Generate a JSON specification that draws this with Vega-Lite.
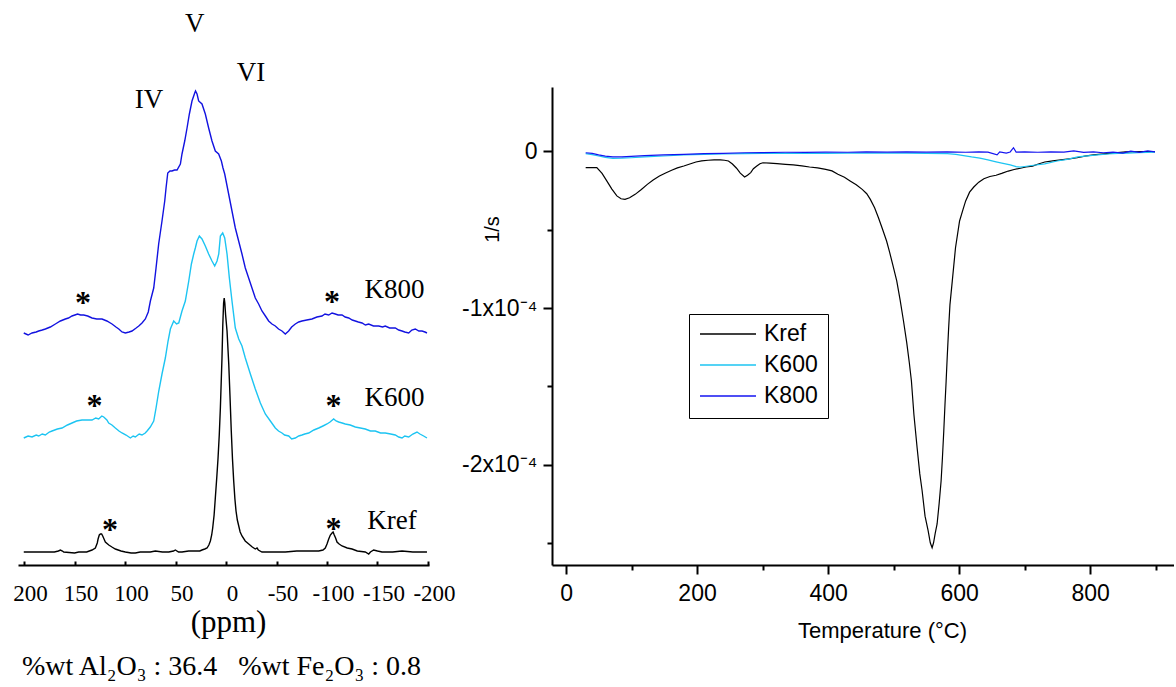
{
"$schema": "https://vega.github.io/schema/vega-lite/v6.json",
"background": "white",
"padding": {"left": 12, "top": 9, "right": 0, "bottom": 0},
"bounds": "flush",
"spacing": 123,
"resolve": {"scale": {"color": "independent"}, "legend": {"color": "independent"}},
"config": {"view": {"stroke": null}, "axis": {"grid": false}},
"datasets": {
"nmr": [
{"s":"K800","ppm":200.3,"y":232},{"s":"K800","ppm":196,"y":230},{"s":"K800","ppm":192.1,"y":232},{"s":"K800","ppm":188,"y":233},{"s":"K800","ppm":185.5,"y":234},{"s":"K800","ppm":182,"y":235},{"s":"K800","ppm":178.9,"y":236},{"s":"K800","ppm":174,"y":238},{"s":"K800","ppm":169,"y":241},{"s":"K800","ppm":164,"y":244},{"s":"K800","ppm":159.1,"y":246},{"s":"K800","ppm":156,"y":247},{"s":"K800","ppm":152.5,"y":249},{"s":"K800","ppm":147,"y":251},{"s":"K800","ppm":144,"y":250},{"s":"K800","ppm":140.9,"y":250},{"s":"K800","ppm":137,"y":249},{"s":"K800","ppm":132.7,"y":247},{"s":"K800","ppm":128,"y":246},{"s":"K800","ppm":122.8,"y":246},{"s":"K800","ppm":118,"y":244},{"s":"K800","ppm":112.9,"y":241},{"s":"K800","ppm":109,"y":238},{"s":"K800","ppm":106.2,"y":236},{"s":"K800","ppm":103,"y":233},{"s":"K800","ppm":99.7,"y":232},{"s":"K800","ppm":96,"y":233},{"s":"K800","ppm":93.1,"y":234},{"s":"K800","ppm":89,"y":237},{"s":"K800","ppm":86.4,"y":239},{"s":"K800","ppm":83.2,"y":242},{"s":"K800","ppm":79.9,"y":246},{"s":"K800","ppm":77,"y":253},{"s":"K800","ppm":74.9,"y":264},{"s":"K800","ppm":71.6,"y":277},{"s":"K800","ppm":69.3,"y":297},{"s":"K800","ppm":66.7,"y":321},{"s":"K800","ppm":63.4,"y":344},{"s":"K800","ppm":60.7,"y":364},{"s":"K800","ppm":59.4,"y":377},{"s":"K800","ppm":57.7,"y":392},{"s":"K800","ppm":55.5,"y":394},{"s":"K800","ppm":53.5,"y":394},{"s":"K800","ppm":51,"y":395},{"s":"K800","ppm":48.5,"y":395},{"s":"K800","ppm":45.2,"y":401},{"s":"K800","ppm":43.6,"y":411},{"s":"K800","ppm":40.9,"y":424},{"s":"K800","ppm":38.6,"y":437},{"s":"K800","ppm":36.3,"y":451},{"s":"K800","ppm":33.7,"y":464},{"s":"K800","ppm":31.0,"y":472},{"s":"K800","ppm":30.2,"y":474},{"s":"K800","ppm":28.7,"y":471},{"s":"K800","ppm":27.1,"y":464},{"s":"K800","ppm":23.8,"y":461},{"s":"K800","ppm":20.5,"y":451},{"s":"K800","ppm":17.2,"y":437},{"s":"K800","ppm":13.9,"y":424},{"s":"K800","ppm":10.6,"y":414},{"s":"K800","ppm":7.3,"y":411},{"s":"K800","ppm":4.6,"y":404},{"s":"K800","ppm":3.0,"y":397},{"s":"K800","ppm":1.3,"y":391},{"s":"K800","ppm":-2.6,"y":371},{"s":"K800","ppm":-5.9,"y":354},{"s":"K800","ppm":-9.2,"y":337},{"s":"K800","ppm":-12.5,"y":324},{"s":"K800","ppm":-15.8,"y":311},{"s":"K800","ppm":-19.1,"y":297},{"s":"K800","ppm":-22.4,"y":287},{"s":"K800","ppm":-25.7,"y":277},{"s":"K800","ppm":-29.0,"y":267},{"s":"K800","ppm":-32.3,"y":261},{"s":"K800","ppm":-35.6,"y":254},{"s":"K800","ppm":-39,"y":249},{"s":"K800","ppm":-42.2,"y":244},{"s":"K800","ppm":-45.5,"y":241},{"s":"K800","ppm":-48.8,"y":239},{"s":"K800","ppm":-52,"y":236},{"s":"K800","ppm":-55.4,"y":234},{"s":"K800","ppm":-58.7,"y":231},{"s":"K800","ppm":-62.0,"y":234},{"s":"K800","ppm":-65,"y":238},{"s":"K800","ppm":-68.6,"y":241},{"s":"K800","ppm":-72,"y":243},{"s":"K800","ppm":-75.2,"y":244},{"s":"K800","ppm":-80,"y":245},{"s":"K800","ppm":-85.1,"y":246},{"s":"K800","ppm":-90,"y":248},{"s":"K800","ppm":-95.0,"y":249},{"s":"K800","ppm":-98,"y":251},{"s":"K800","ppm":-101.7,"y":250},{"s":"K800","ppm":-105,"y":252},{"s":"K800","ppm":-108.2,"y":251},{"s":"K800","ppm":-111,"y":250},{"s":"K800","ppm":-114.9,"y":250},{"s":"K800","ppm":-118,"y":248},{"s":"K800","ppm":-121.5,"y":247},{"s":"K800","ppm":-125,"y":245},{"s":"K800","ppm":-128.0,"y":244},{"s":"K800","ppm":-131,"y":243},{"s":"K800","ppm":-134.7,"y":242},{"s":"K800","ppm":-138,"y":240},{"s":"K800","ppm":-141.3,"y":241},{"s":"K800","ppm":-146,"y":239},{"s":"K800","ppm":-151.2,"y":239},{"s":"K800","ppm":-155,"y":238},{"s":"K800","ppm":-157.7,"y":239},{"s":"K800","ppm":-162,"y":237},{"s":"K800","ppm":-167.6,"y":237},{"s":"K800","ppm":-171,"y":235},{"s":"K800","ppm":-174.3,"y":234},{"s":"K800","ppm":-177,"y":233},{"s":"K800","ppm":-180.9,"y":232},{"s":"K800","ppm":-184,"y":235},{"s":"K800","ppm":-187.4,"y":236},{"s":"K800","ppm":-191,"y":234},{"s":"K800","ppm":-194.1,"y":234},{"s":"K800","ppm":-197,"y":233},{"s":"K800","ppm":-199,"y":232},
{"s":"K600","ppm":200.3,"y":127},{"s":"K600","ppm":196,"y":129},{"s":"K600","ppm":192.1,"y":128},{"s":"K600","ppm":188,"y":130},{"s":"K600","ppm":185.5,"y":129},{"s":"K600","ppm":182,"y":131},{"s":"K600","ppm":178.9,"y":130},{"s":"K600","ppm":175,"y":133},{"s":"K600","ppm":172.3,"y":134},{"s":"K600","ppm":167,"y":136},{"s":"K600","ppm":162.4,"y":137},{"s":"K600","ppm":157,"y":140},{"s":"K600","ppm":152.5,"y":142},{"s":"K600","ppm":148,"y":144},{"s":"K600","ppm":142.6,"y":145},{"s":"K600","ppm":138,"y":145},{"s":"K600","ppm":132.7,"y":145},{"s":"K600","ppm":129,"y":147},{"s":"K600","ppm":126.1,"y":146},{"s":"K600","ppm":123,"y":149},{"s":"K600","ppm":121.1,"y":148},{"s":"K600","ppm":118,"y":145},{"s":"K600","ppm":116.2,"y":142},{"s":"K600","ppm":113,"y":140},{"s":"K600","ppm":109.6,"y":137},{"s":"K600","ppm":106,"y":134},{"s":"K600","ppm":103.0,"y":132},{"s":"K600","ppm":99,"y":130},{"s":"K600","ppm":94.7,"y":127},{"s":"K600","ppm":92,"y":129},{"s":"K600","ppm":89.8,"y":128},{"s":"K600","ppm":86,"y":131},{"s":"K600","ppm":83.2,"y":130},{"s":"K600","ppm":80,"y":132},{"s":"K600","ppm":78.2,"y":134},{"s":"K600","ppm":75,"y":138},{"s":"K600","ppm":71.6,"y":144},{"s":"K600","ppm":69.3,"y":157},{"s":"K600","ppm":66.6,"y":174},{"s":"K600","ppm":63.4,"y":191},{"s":"K600","ppm":60.1,"y":207},{"s":"K600","ppm":57.4,"y":224},{"s":"K600","ppm":55.1,"y":236},{"s":"K600","ppm":51.8,"y":244},{"s":"K600","ppm":49,"y":241},{"s":"K600","ppm":46.8,"y":242},{"s":"K600","ppm":43.6,"y":254},{"s":"K600","ppm":40.3,"y":264},{"s":"K600","ppm":36.9,"y":284},{"s":"K600","ppm":34.3,"y":301},{"s":"K600","ppm":32.0,"y":311},{"s":"K600","ppm":30.4,"y":317},{"s":"K600","ppm":28.7,"y":324},{"s":"K600","ppm":26.4,"y":329},{"s":"K600","ppm":23.8,"y":326},{"s":"K600","ppm":20.5,"y":319},{"s":"K600","ppm":17.2,"y":311},{"s":"K600","ppm":13.9,"y":304},{"s":"K600","ppm":11.2,"y":299},{"s":"K600","ppm":8.9,"y":304},{"s":"K600","ppm":7.2,"y":311},{"s":"K600","ppm":5.6,"y":329},{"s":"K600","ppm":3.3,"y":332},{"s":"K600","ppm":1.3,"y":327},{"s":"K600","ppm":-1.0,"y":311},{"s":"K600","ppm":-3.3,"y":287},{"s":"K600","ppm":-5.9,"y":264},{"s":"K600","ppm":-9.2,"y":237},{"s":"K600","ppm":-12.6,"y":226},{"s":"K600","ppm":-15.8,"y":219},{"s":"K600","ppm":-19.1,"y":207},{"s":"K600","ppm":-24.1,"y":191},{"s":"K600","ppm":-29.0,"y":176},{"s":"K600","ppm":-34.0,"y":162},{"s":"K600","ppm":-38.9,"y":151},{"s":"K600","ppm":-43.9,"y":144},{"s":"K600","ppm":-48.8,"y":137},{"s":"K600","ppm":-52,"y":134},{"s":"K600","ppm":-55.4,"y":132},{"s":"K600","ppm":-58,"y":130},{"s":"K600","ppm":-62.1,"y":129},{"s":"K600","ppm":-65,"y":126},{"s":"K600","ppm":-68.6,"y":127},{"s":"K600","ppm":-72,"y":129},{"s":"K600","ppm":-75.2,"y":130},{"s":"K600","ppm":-78,"y":131},{"s":"K600","ppm":-81.9,"y":132},{"s":"K600","ppm":-87,"y":135},{"s":"K600","ppm":-91.8,"y":137},{"s":"K600","ppm":-96,"y":139},{"s":"K600","ppm":-100.0,"y":141},{"s":"K600","ppm":-103,"y":143},{"s":"K600","ppm":-106.6,"y":146},{"s":"K600","ppm":-109,"y":144},{"s":"K600","ppm":-111.6,"y":143},{"s":"K600","ppm":-115,"y":142},{"s":"K600","ppm":-118.1,"y":141},{"s":"K600","ppm":-123,"y":140},{"s":"K600","ppm":-128.0,"y":138},{"s":"K600","ppm":-133,"y":137},{"s":"K600","ppm":-137.9,"y":136},{"s":"K600","ppm":-143,"y":134},{"s":"K600","ppm":-147.8,"y":134},{"s":"K600","ppm":-153,"y":132},{"s":"K600","ppm":-157.7,"y":132},{"s":"K600","ppm":-163,"y":131},{"s":"K600","ppm":-167.6,"y":130},{"s":"K600","ppm":-171,"y":128},{"s":"K600","ppm":-174.3,"y":127},{"s":"K600","ppm":-177,"y":129},{"s":"K600","ppm":-180.9,"y":128},{"s":"K600","ppm":-185,"y":131},{"s":"K600","ppm":-189.1,"y":133},{"s":"K600","ppm":-192,"y":131},{"s":"K600","ppm":-195.7,"y":129},{"s":"K600","ppm":-199,"y":127},
{"s":"Kref","ppm":200.3,"y":13},{"s":"Kref","ppm":191,"y":13},{"s":"Kref","ppm":182.2,"y":13},{"s":"Kref","ppm":170,"y":13},{"s":"Kref","ppm":166,"y":14},{"s":"Kref","ppm":164,"y":15},{"s":"Kref","ppm":162,"y":14},{"s":"Kref","ppm":160.7,"y":13},{"s":"Kref","ppm":150,"y":12},{"s":"Kref","ppm":145.8,"y":13},{"s":"Kref","ppm":138,"y":13},{"s":"Kref","ppm":132.7,"y":15},{"s":"Kref","ppm":129.4,"y":17},{"s":"Kref","ppm":127.5,"y":22},{"s":"Kref","ppm":126.7,"y":26},{"s":"Kref","ppm":125.5,"y":30},{"s":"Kref","ppm":124.4,"y":31},{"s":"Kref","ppm":123.2,"y":31},{"s":"Kref","ppm":122.1,"y":29},{"s":"Kref","ppm":119.5,"y":23},{"s":"Kref","ppm":116.1,"y":20},{"s":"Kref","ppm":113,"y":18},{"s":"Kref","ppm":109.6,"y":16},{"s":"Kref","ppm":104,"y":14},{"s":"Kref","ppm":99.7,"y":13},{"s":"Kref","ppm":94,"y":12},{"s":"Kref","ppm":89.8,"y":12},{"s":"Kref","ppm":85,"y":13},{"s":"Kref","ppm":79.9,"y":13},{"s":"Kref","ppm":75,"y":13},{"s":"Kref","ppm":70,"y":14},{"s":"Kref","ppm":63,"y":13},{"s":"Kref","ppm":56.7,"y":13},{"s":"Kref","ppm":52,"y":14},{"s":"Kref","ppm":50.2,"y":15},{"s":"Kref","ppm":47,"y":13},{"s":"Kref","ppm":43.6,"y":13},{"s":"Kref","ppm":37,"y":14},{"s":"Kref","ppm":30.4,"y":14},{"s":"Kref","ppm":26,"y":14},{"s":"Kref","ppm":23.8,"y":15},{"s":"Kref","ppm":21,"y":16},{"s":"Kref","ppm":18.8,"y":17},{"s":"Kref","ppm":17,"y":20},{"s":"Kref","ppm":15.5,"y":24},{"s":"Kref","ppm":14.2,"y":30},{"s":"Kref","ppm":13.2,"y":37},{"s":"Kref","ppm":11.8,"y":50},{"s":"Kref","ppm":10.6,"y":67},{"s":"Kref","ppm":9.2,"y":87},{"s":"Kref","ppm":7.9,"y":107},{"s":"Kref","ppm":6.7,"y":130},{"s":"Kref","ppm":5.6,"y":157},{"s":"Kref","ppm":4.8,"y":182},{"s":"Kref","ppm":4.0,"y":207},{"s":"Kref","ppm":3.2,"y":240},{"s":"Kref","ppm":2.4,"y":262},{"s":"Kref","ppm":1.8,"y":267},{"s":"Kref","ppm":1.2,"y":262},{"s":"Kref","ppm":0.4,"y":250},{"s":"Kref","ppm":-1.0,"y":234},{"s":"Kref","ppm":-2.7,"y":201},{"s":"Kref","ppm":-4,"y":167},{"s":"Kref","ppm":-5.2,"y":134},{"s":"Kref","ppm":-6.4,"y":106},{"s":"Kref","ppm":-7.6,"y":84},{"s":"Kref","ppm":-8.8,"y":66},{"s":"Kref","ppm":-9.9,"y":54},{"s":"Kref","ppm":-11.2,"y":45},{"s":"Kref","ppm":-12.6,"y":39},{"s":"Kref","ppm":-14,"y":33},{"s":"Kref","ppm":-15.8,"y":29},{"s":"Kref","ppm":-19,"y":24},{"s":"Kref","ppm":-22.5,"y":21},{"s":"Kref","ppm":-26,"y":18},{"s":"Kref","ppm":-29,"y":16},{"s":"Kref","ppm":-30.7,"y":17},{"s":"Kref","ppm":-32,"y":15},{"s":"Kref","ppm":-35.6,"y":13},{"s":"Kref","ppm":-45,"y":13},{"s":"Kref","ppm":-58.7,"y":13},{"s":"Kref","ppm":-70,"y":14},{"s":"Kref","ppm":-75.2,"y":14},{"s":"Kref","ppm":-85,"y":14},{"s":"Kref","ppm":-91.8,"y":14},{"s":"Kref","ppm":-96,"y":15},{"s":"Kref","ppm":-98.3,"y":17},{"s":"Kref","ppm":-100,"y":21},{"s":"Kref","ppm":-101.7,"y":26},{"s":"Kref","ppm":-103.3,"y":30},{"s":"Kref","ppm":-105,"y":32},{"s":"Kref","ppm":-106,"y":33},{"s":"Kref","ppm":-107.2,"y":30},{"s":"Kref","ppm":-108.5,"y":27},{"s":"Kref","ppm":-109.9,"y":23},{"s":"Kref","ppm":-112,"y":21},{"s":"Kref","ppm":-114.9,"y":19},{"s":"Kref","ppm":-120,"y":17},{"s":"Kref","ppm":-124.8,"y":16},{"s":"Kref","ppm":-130,"y":14},{"s":"Kref","ppm":-137.9,"y":13},{"s":"Kref","ppm":-141.3,"y":11},{"s":"Kref","ppm":-143,"y":13},{"s":"Kref","ppm":-146.2,"y":15},{"s":"Kref","ppm":-150,"y":14},{"s":"Kref","ppm":-154.5,"y":13},{"s":"Kref","ppm":-165,"y":13},{"s":"Kref","ppm":-174.3,"y":14},{"s":"Kref","ppm":-185,"y":13},{"s":"Kref","ppm":-199,"y":13}
],
"sites": [{"site":"IV","ppm":55},{"site":"V","ppm":28.7},{"site":"VI","ppm":1.7}],
"labels": [
{"text":"IV","ppm":76.2,"y":457},{"text":"V","ppm":30.9,"y":533},{"text":"VI","ppm":-24.8,"y":484},
{"text":"K800","ppm":-166.8,"y":267},{"text":"K600","ppm":-166.8,"y":159},{"text":"Kref","ppm":-164.4,"y":36}
],
"stars": [
{"s":"K800","ppm":141.6,"y":267},{"s":"K800","ppm":-105,"y":268},
{"s":"K600","ppm":130.2,"y":164},{"s":"K600","ppm":-106.4,"y":164},
{"s":"Kref","ppm":114.9,"y":40},{"s":"Kref","ppm":-106.4,"y":41}
],
"dtg": [
{"s":"Kref","T":30,"rate":-0.103e-4},{"s":"Kref","T":47,"rate":-0.103e-4},{"s":"Kref","T":55,"rate":-0.14e-4},{"s":"Kref","T":62.2,"rate":-0.188e-4},{"s":"Kref","T":70,"rate":-0.24e-4},{"s":"Kref","T":77.6,"rate":-0.284e-4},{"s":"Kref","T":84,"rate":-0.302e-4},{"s":"Kref","T":90,"rate":-0.306e-4},{"s":"Kref","T":97,"rate":-0.296e-4},{"s":"Kref","T":105.5,"rate":-0.274e-4},{"s":"Kref","T":115,"rate":-0.243e-4},{"s":"Kref","T":124.1,"rate":-0.21e-4},{"s":"Kref","T":133,"rate":-0.182e-4},{"s":"Kref","T":142.6,"rate":-0.157e-4},{"s":"Kref","T":152,"rate":-0.137e-4},{"s":"Kref","T":161.2,"rate":-0.12e-4},{"s":"Kref","T":170,"rate":-0.105e-4},{"s":"Kref","T":179.8,"rate":-0.093e-4},{"s":"Kref","T":189,"rate":-0.08e-4},{"s":"Kref","T":198.3,"rate":-0.067e-4},{"s":"Kref","T":207,"rate":-0.06e-4},{"s":"Kref","T":216.9,"rate":-0.056e-4},{"s":"Kref","T":226,"rate":-0.054e-4},{"s":"Kref","T":235.5,"rate":-0.054e-4},{"s":"Kref","T":242,"rate":-0.056e-4},{"s":"Kref","T":247.9,"rate":-0.061e-4},{"s":"Kref","T":254,"rate":-0.08e-4},{"s":"Kref","T":260.3,"rate":-0.107e-4},{"s":"Kref","T":266,"rate":-0.138e-4},{"s":"Kref","T":272.6,"rate":-0.163e-4},{"s":"Kref","T":277,"rate":-0.152e-4},{"s":"Kref","T":281.9,"rate":-0.135e-4},{"s":"Kref","T":286,"rate":-0.11e-4},{"s":"Kref","T":291.2,"rate":-0.093e-4},{"s":"Kref","T":296,"rate":-0.078e-4},{"s":"Kref","T":300.5,"rate":-0.072e-4},{"s":"Kref","T":311,"rate":-0.074e-4},{"s":"Kref","T":322.1,"rate":-0.078e-4},{"s":"Kref","T":335,"rate":-0.082e-4},{"s":"Kref","T":346.9,"rate":-0.086e-4},{"s":"Kref","T":360,"rate":-0.092e-4},{"s":"Kref","T":371.7,"rate":-0.099e-4},{"s":"Kref","T":384,"rate":-0.105e-4},{"s":"Kref","T":396.4,"rate":-0.114e-4},{"s":"Kref","T":406,"rate":-0.124e-4},{"s":"Kref","T":415,"rate":-0.146e-4},{"s":"Kref","T":425,"rate":-0.165e-4},{"s":"Kref","T":433.6,"rate":-0.188e-4},{"s":"Kref","T":443,"rate":-0.213e-4},{"s":"Kref","T":452.1,"rate":-0.242e-4},{"s":"Kref","T":459,"rate":-0.27e-4},{"s":"Kref","T":464.5,"rate":-0.306e-4},{"s":"Kref","T":471,"rate":-0.36e-4},{"s":"Kref","T":476.9,"rate":-0.423e-4},{"s":"Kref","T":483,"rate":-0.495e-4},{"s":"Kref","T":489.3,"rate":-0.572e-4},{"s":"Kref","T":494,"rate":-0.645e-4},{"s":"Kref","T":498.6,"rate":-0.721e-4},{"s":"Kref","T":504.8,"rate":-0.827e-4},{"s":"Kref","T":510,"rate":-0.95e-4},{"s":"Kref","T":515,"rate":-1.08e-4},{"s":"Kref","T":520,"rate":-1.22e-4},{"s":"Kref","T":524,"rate":-1.35e-4},{"s":"Kref","T":527.2,"rate":-1.466e-4},{"s":"Kref","T":531,"rate":-1.68e-4},{"s":"Kref","T":535.9,"rate":-1.893e-4},{"s":"Kref","T":540,"rate":-2.06e-4},{"s":"Kref","T":543.5,"rate":-2.166e-4},{"s":"Kref","T":548,"rate":-2.33e-4},{"s":"Kref","T":552.7,"rate":-2.422e-4},{"s":"Kref","T":556,"rate":-2.5e-4},{"s":"Kref","T":558.8,"rate":-2.532e-4},{"s":"Kref","T":561,"rate":-2.5e-4},{"s":"Kref","T":563.5,"rate":-2.44e-4},{"s":"Kref","T":566.4,"rate":-2.38e-4},{"s":"Kref","T":569.5,"rate":-2.25e-4},{"s":"Kref","T":572.5,"rate":-2.105e-4},{"s":"Kref","T":574.5,"rate":-1.96e-4},{"s":"Kref","T":576.6,"rate":-1.786e-4},{"s":"Kref","T":578.4,"rate":-1.62e-4},{"s":"Kref","T":580.2,"rate":-1.466e-4},{"s":"Kref","T":582,"rate":-1.3e-4},{"s":"Kref","T":584,"rate":-1.13e-4},{"s":"Kref","T":586,"rate":-0.98e-4},{"s":"Kref","T":589.6,"rate":-0.827e-4},{"s":"Kref","T":594.5,"rate":-0.615e-4},{"s":"Kref","T":600.7,"rate":-0.444e-4},{"s":"Kref","T":606,"rate":-0.37e-4},{"s":"Kref","T":610,"rate":-0.316e-4},{"s":"Kref","T":616,"rate":-0.26e-4},{"s":"Kref","T":622.4,"rate":-0.227e-4},{"s":"Kref","T":630,"rate":-0.196e-4},{"s":"Kref","T":637.8,"rate":-0.174e-4},{"s":"Kref","T":647,"rate":-0.16e-4},{"s":"Kref","T":656.4,"rate":-0.152e-4},{"s":"Kref","T":665,"rate":-0.14e-4},{"s":"Kref","T":675,"rate":-0.125e-4},{"s":"Kref","T":684,"rate":-0.115e-4},{"s":"Kref","T":693.5,"rate":-0.107e-4},{"s":"Kref","T":702,"rate":-0.099e-4},{"s":"Kref","T":712.1,"rate":-0.093e-4},{"s":"Kref","T":721,"rate":-0.08e-4},{"s":"Kref","T":730.7,"rate":-0.067e-4},{"s":"Kref","T":743,"rate":-0.06e-4},{"s":"Kref","T":755.4,"rate":-0.054e-4},{"s":"Kref","T":768,"rate":-0.047e-4},{"s":"Kref","T":780.2,"rate":-0.04e-4},{"s":"Kref","T":792,"rate":-0.03e-4},{"s":"Kref","T":805,"rate":-0.022e-4},{"s":"Kref","T":817,"rate":-0.017e-4},{"s":"Kref","T":829.7,"rate":-0.012e-4},{"s":"Kref","T":842,"rate":-0.007e-4},{"s":"Kref","T":854.5,"rate":-0.003e-4},{"s":"Kref","T":867,"rate":-0.002e-4},{"s":"Kref","T":879.2,"rate":-0.001e-4},{"s":"Kref","T":890,"rate":-0.001e-4},{"s":"Kref","T":899,"rate":-0.001e-4},
{"s":"K600","T":30,"rate":-0.014e-4},{"s":"K600","T":40,"rate":-0.02e-4},{"s":"K600","T":49.8,"rate":-0.029e-4},{"s":"K600","T":60,"rate":-0.038e-4},{"s":"K600","T":71.5,"rate":-0.044e-4},{"s":"K600","T":85,"rate":-0.043e-4},{"s":"K600","T":99.3,"rate":-0.04e-4},{"s":"K600","T":120,"rate":-0.034e-4},{"s":"K600","T":148.8,"rate":-0.029e-4},{"s":"K600","T":180,"rate":-0.022e-4},{"s":"K600","T":210.7,"rate":-0.018e-4},{"s":"K600","T":240,"rate":-0.016e-4},{"s":"K600","T":272.6,"rate":-0.014e-4},{"s":"K600","T":300,"rate":-0.013e-4},{"s":"K600","T":334.5,"rate":-0.012e-4},{"s":"K600","T":365,"rate":-0.013e-4},{"s":"K600","T":396.4,"rate":-0.012e-4},{"s":"K600","T":430,"rate":-0.01e-4},{"s":"K600","T":458.3,"rate":-0.01e-4},{"s":"K600","T":490,"rate":-0.011e-4},{"s":"K600","T":520.2,"rate":-0.01e-4},{"s":"K600","T":550,"rate":-0.012e-4},{"s":"K600","T":582.1,"rate":-0.014e-4},{"s":"K600","T":595,"rate":-0.018e-4},{"s":"K600","T":606.9,"rate":-0.026e-4},{"s":"K600","T":619,"rate":-0.035e-4},{"s":"K600","T":631.7,"rate":-0.043e-4},{"s":"K600","T":644,"rate":-0.054e-4},{"s":"K600","T":656.4,"rate":-0.066e-4},{"s":"K600","T":667,"rate":-0.076e-4},{"s":"K600","T":678,"rate":-0.086e-4},{"s":"K600","T":687,"rate":-0.097e-4},{"s":"K600","T":693,"rate":-0.1e-4},{"s":"K600","T":700,"rate":-0.096e-4},{"s":"K600","T":713.8,"rate":-0.088e-4},{"s":"K600","T":730.7,"rate":-0.079e-4},{"s":"K600","T":749.6,"rate":-0.061e-4},{"s":"K600","T":765,"rate":-0.05e-4},{"s":"K600","T":781,"rate":-0.035e-4},{"s":"K600","T":796,"rate":-0.028e-4},{"s":"K600","T":811.8,"rate":-0.022e-4},{"s":"K600","T":827,"rate":-0.016e-4},{"s":"K600","T":842.6,"rate":-0.012e-4},{"s":"K600","T":858,"rate":-0.01e-4},{"s":"K600","T":873.3,"rate":-0.007e-4},{"s":"K600","T":888,"rate":-0.006e-4},{"s":"K600","T":899,"rate":-0.004e-4},
{"s":"K800","T":30,"rate":-0.008e-4},{"s":"K800","T":40,"rate":-0.012e-4},{"s":"K800","T":49.8,"rate":-0.022e-4},{"s":"K800","T":60,"rate":-0.03e-4},{"s":"K800","T":71.5,"rate":-0.035e-4},{"s":"K800","T":85,"rate":-0.034e-4},{"s":"K800","T":99.3,"rate":-0.031e-4},{"s":"K800","T":120,"rate":-0.027e-4},{"s":"K800","T":148.8,"rate":-0.022e-4},{"s":"K800","T":180,"rate":-0.018e-4},{"s":"K800","T":210.7,"rate":-0.014e-4},{"s":"K800","T":240,"rate":-0.012e-4},{"s":"K800","T":272.6,"rate":-0.008e-4},{"s":"K800","T":300,"rate":-0.007e-4},{"s":"K800","T":334.5,"rate":-0.005e-4},{"s":"K800","T":365,"rate":-0.006e-4},{"s":"K800","T":396.4,"rate":-0.004e-4},{"s":"K800","T":430,"rate":-0.005e-4},{"s":"K800","T":458.3,"rate":-0.003e-4},{"s":"K800","T":490,"rate":-0.004e-4},{"s":"K800","T":520,"rate":-0.002e-4},{"s":"K800","T":550,"rate":-0.004e-4},{"s":"K800","T":582,"rate":-0.003e-4},{"s":"K800","T":610,"rate":-0.005e-4},{"s":"K800","T":630,"rate":-0.002e-4},{"s":"K800","T":644,"rate":-0.004e-4},{"s":"K800","T":658,"rate":-0.022e-4},{"s":"K800","T":662,"rate":-0.003e-4},{"s":"K800","T":672,"rate":-0.01e-4},{"s":"K800","T":678,"rate":-0.003e-4},{"s":"K800","T":683,"rate":0.024e-4},{"s":"K800","T":687,"rate":-0.004e-4},{"s":"K800","T":700,"rate":-0.002e-4},{"s":"K800","T":720,"rate":-0.005e-4},{"s":"K800","T":740,"rate":-0.002e-4},{"s":"K800","T":760,"rate":-0.004e-4},{"s":"K800","T":775,"rate":0.004e-4},{"s":"K800","T":790,"rate":-0.006e-4},{"s":"K800","T":805,"rate":-0.003e-4},{"s":"K800","T":820,"rate":-0.008e-4},{"s":"K800","T":835,"rate":-0.004e-4},{"s":"K800","T":850,"rate":-0.01e-4},{"s":"K800","T":862,"rate":0.002e-4},{"s":"K800","T":875,"rate":-0.006e-4},{"s":"K800","T":888,"rate":0.004e-4},{"s":"K800","T":899,"rate":-0.003e-4}
]
},
"hconcat": [
{
"width": 411,
"height": 478,
"title": {"text": "%wt Al₂O₃ : 36.4\u00a0\u00a0\u00a0%wt Fe₂O₃ : 0.8", "orient": "bottom", "anchor": "middle", "frame": "group", "font": "Liberation Serif", "fontSize": 28, "fontWeight": "normal", "color": "black", "baseline": "top", "offset": 16, "dx": -2},
"encoding": {
"x": {"field": "ppm", "type": "quantitative",
"scale": {"domain": [206, -201], "nice": false, "zero": false},
"axis": {"values": [200,150,100,50,0,-50,-100,-150,-200], "labelExpr": "datum.value + ''",
"domainColor": "black", "domainWidth": 2, "tickColor": "black", "tickWidth": 2, "tickSize": -4,
"labelFont": "Liberation Serif", "labelFontSize": 23, "labelColor": "black", "labelPadding": 21, "labelOffset": 6, "labelFlush": false, "labelOverlap": false,
"title": "(ppm)", "titleFont": "Liberation Serif", "titleFontSize": 31, "titleFontWeight": "normal", "titleColor": "black", "titleX": 210, "titleY": 57, "titleBaseline": "middle", "titleAlign": "center"}},
"y": {"field": "y", "type": "quantitative", "scale": {"domain": [0, 478], "nice": false, "zero": false}, "axis": null}
},
"layer": [
{"data": {"name": "nmr"}, "mark": {"type": "line", "strokeWidth": 1.4},
"encoding": {"color": {"field": "s", "type": "nominal", "scale": {"domain": ["Kref","K600","K800"], "range": ["#000000","#1cc4f2","#1212e0"]}, "legend": null}}},
{"data": {"name": "sites"}, "mark": {"type": "rule", "color": "#8c8c8c", "strokeWidth": 1.5},
"encoding": {"y": {"datum": 0}, "y2": {"datum": 521}}},
{"data": {"name": "labels"}, "mark": {"type": "text", "font": "Liberation Serif", "fontSize": 27, "baseline": "alphabetic", "align": "center", "color": "black"},
"encoding": {"text": {"field": "text"}}},
{"data": {"name": "stars"}, "mark": {"type": "text", "font": "Liberation Serif", "fontSize": 32, "fontWeight": "bold", "baseline": "alphabetic", "align": "center", "dy": 15, "color": "black"},
"encoding": {"text": {"value": "*"}}}
]
},
{
"width": 622,
"height": 478,
"data": {"name": "dtg"},
"mark": {"type": "line", "strokeWidth": 1.2},
"encoding": {
"x": {"field": "T", "type": "quantitative", "scale": {"domain": [-21.4, 928], "nice": false, "zero": false},
"axis": {"values": [0,100,200,300,400,500,600,700,800,900], "labelExpr": "datum.value % 200 == 0 ? datum.value + '' : ''",
"domainColor": "black", "domainWidth": 2, "tickColor": "black", "tickWidth": 2,
"tickSize": {"condition": {"test": "datum.value % 200 == 0", "value": 9}, "value": 5},
"labelFont": "Liberation Sans", "labelFontSize": 23, "labelColor": "black", "labelPadding": 8, "labelFlush": false, "labelOverlap": false,
"title": "Temperature (°C)", "titleFont": "Liberation Sans", "titleFontSize": 22, "titleFontWeight": "normal", "titleColor": "black", "titleX": 330, "titleY": 65, "titleBaseline": "middle", "titleAlign": "center"}},
"y": {"field": "rate", "type": "quantitative", "scale": {"domain": [-2.642e-4, 0.412e-4], "nice": false, "zero": false},
"axis": {"values": [0, -0.5e-4, -1e-4, -1.5e-4, -2e-4, -2.5e-4],
"labelExpr": "round(datum.value*1e5) == 0 ? '0' : round(datum.value*1e5) == -10 ? '-1x10⁻⁴' : round(datum.value*1e5) == -20 ? '-2x10⁻⁴' : ''",
"domainColor": "black", "domainWidth": 2, "tickColor": "black", "tickWidth": 2,
"tickSize": {"condition": {"test": "round(datum.value*1e5) % 10 == 0", "value": 9}, "value": 5},
"labelFont": "Liberation Sans", "labelFontSize": 23, "labelColor": "black", "labelPadding": 6, "labelFlush": false, "labelOverlap": false,
"title": "1/s", "titleFont": "Liberation Sans", "titleFontSize": 20, "titleFontWeight": "normal", "titleColor": "black", "titleX": -60, "titleY": 142, "titleAngle": -90, "titleBaseline": "middle", "titleAlign": "center"}},
"color": {"field": "s", "type": "nominal", "scale": {"domain": ["Kref","K600","K800"], "range": ["#000000","#1cc4f2","#1414f0"]},
"legend": {"orient": "none", "legendX": 137, "legendY": 227, "title": null, "symbolType": "stroke", "symbolSize": 3136, "symbolStrokeWidth": 1.5, "clipHeight": 20, "rowPadding": 8, "padding": 10, "labelFont": "Liberation Sans", "labelFontSize": 23, "labelColor": "black", "labelOffset": 7, "labelExpr": "datum.label + '   '", "strokeColor": "black", "fillColor": "white"}}
}
}
]
}
